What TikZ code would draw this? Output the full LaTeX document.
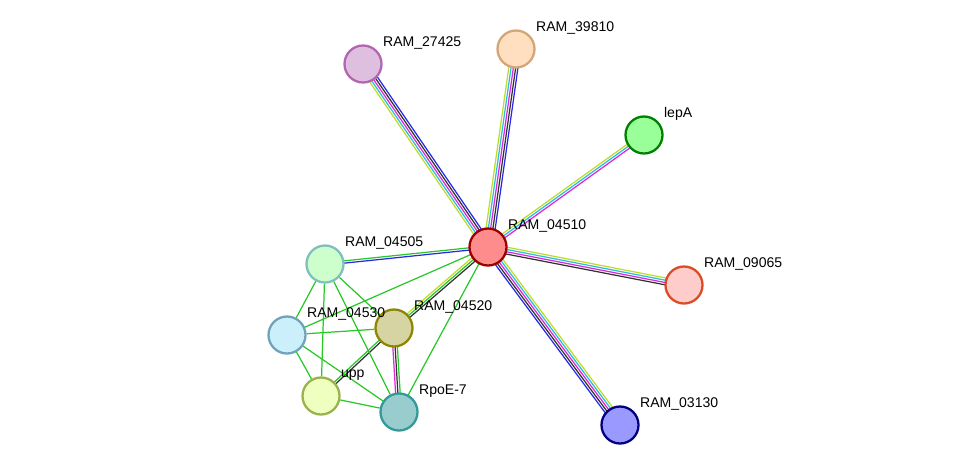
\documentclass[tikz,border=0pt]{standalone}
\usepackage{fontspec}
\setmainfont{Liberation Sans}
\usetikzlibrary{calc,backgrounds}
\definecolor{cnb}{RGB}{40,200,40}
\definecolor{ccooc}{RGB}{40,40,230}
\definecolor{cexp}{RGB}{220,40,220}
\definecolor{cdb}{RGB}{40,190,220}
\definecolor{ctm}{RGB}{190,220,40}
\definecolor{cco}{RGB}{50,50,50}
\tikzset{
  prot/.style={circle, minimum size=0.74cm, inner sep=0pt, line width=1.3pt},
  lbl/.style={anchor=west, font=\fontsize{8}{9}\selectfont, inner sep=1pt},
}
% multi-coloured edge: #1,#2 node names, #3 list of colours
\newcommand{\medge}[3]{%
  \foreach \c [count=\i] in {#3} {\global\let\nn\i}%
  \foreach \c [count=\i] in {#3} {%
    \pgfmathsetmacro{\o}{(\i-(\nn+1)/2)*1.3}%
    \draw[\c, line width=0.7pt] ($(#1.center)!\o pt!90:(#2.center)$) -- ($(#2.center)!\o pt!-90:(#1.center)$);
  }}
\begin{document}
\begin{tikzpicture}[x=0.02cm,y=-0.02cm]
\useasboundingbox (0,0) rectangle (976,471);
% proteins
\node[prot, draw=red!60!black, fill=red!45] (p04510) at (488,247) {};
\node[prot, draw=violet!60, fill=violet!25] (p27425) at (363,64) {};
\node[prot, draw=brown!70, fill=orange!25] (p39810) at (516,49) {};
\node[prot, draw=green!50!black, fill=green!40!white] (lepA) at (644,135) {};
\node[prot, draw=red!40!brown, fill=red!20] (p09065) at (684,285) {};
\node[prot, draw=blue!50!black, fill=blue!40!white] (p03130) at (620,425) {};
\node[prot, draw=teal!50, fill=green!20!white] (p04505) at (325,264) {};
\node[prot, draw=cyan!40!gray, fill=cyan!20] (p04530) at (287,335) {};
\node[prot, draw=olive, fill=yellow!40!gray!60] (p04520) at (394,328) {};
\node[prot, draw=lime!40!gray, fill=lime!25] (upp) at (321,396) {};
\node[prot, draw=teal!80, fill=teal!40] (rpoE) at (399,412) {};
% labels
\foreach \n/\t in {p04510/RAM\_04510, p27425/RAM\_27425, p39810/RAM\_39810, lepA/lepA,
  p09065/RAM\_09065, p03130/RAM\_03130, p04505/RAM\_04505, p04530/RAM\_04530,
  p04520/RAM\_04520, upp/upp, rpoE/RpoE-7}
  \node[lbl] at ($(\n.center)+(18,-21)$) {\t};
% interactions
\begin{scope}[on background layer]
\medge{p04510}{p27425}{ccooc,cco,cexp,cdb,ctm}
\medge{p04510}{p39810}{ccooc,cco,cexp,cdb,ctm}
\medge{p04510}{lepA}{cexp,cdb,ctm}
\medge{p04510}{p09065}{cco,cexp,cdb,ctm}
\medge{p04510}{p03130}{ccooc,cco,cexp,cdb,ctm}
\medge{p04510}{p04505}{cnb,ccooc}
\medge{p04510}{p04520}{ctm,cnb,cco}
\medge{p04510}{p04530}{cnb}
\medge{p04510}{rpoE}{cnb}
\medge{p04520}{rpoE}{cexp,cco,cnb}
\medge{p04520}{upp}{cnb,cco}
\foreach \a/\b in {p04505/p04530, p04505/upp, p04505/p04520, p04505/rpoE,
  p04530/p04520, p04530/upp, p04530/rpoE, upp/rpoE}
  \draw[cnb, line width=0.7pt] (\a) -- (\b);
\end{scope}
\end{tikzpicture}
\end{document}
